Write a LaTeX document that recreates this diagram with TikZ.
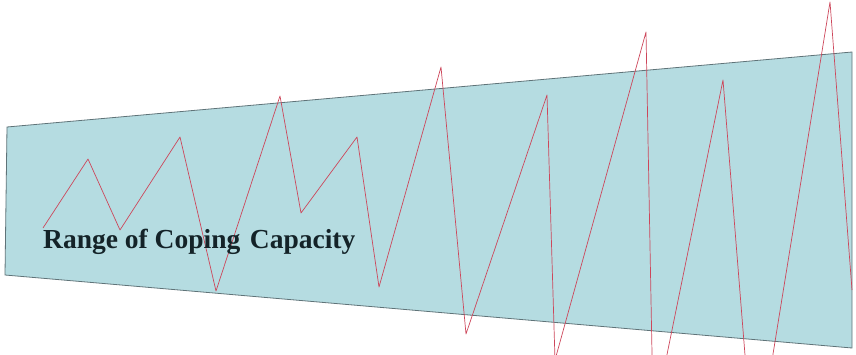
\documentclass[tikz,border=0pt]{standalone}
\usepackage{fontspec}
\setmainfont{Liberation Serif}
\definecolor{bandfill}{RGB}{181,220,225}
\definecolor{bandedge}{RGB}{95,115,120}
\definecolor{stressline}{RGB}{205,70,90}
\definecolor{labeltext}{RGB}{20,35,40}
\begin{document}
\begin{tikzpicture}[x=1pt, y=-1pt,
  band/.style={fill=bandfill, draw=bandedge, line width=0.8pt},
  stress/.style={draw=stressline, line width=0.7pt, line join=round},
  every node/.style={font=\fontsize{27.5}{30}\selectfont\bfseries, text=labeltext, inner sep=0pt}]
  \useasboundingbox (0,0) rectangle (856,354);
  \clip (0,0) rectangle (856,354);
  % coping band
  \draw[band] (7,127) -- (852,52) -- (852,348) -- (5,275) -- cycle;
  % stress zigzag
  \draw[stress] (43,228) -- (88,159) -- (120,230) -- (180,137)
    -- (216,291) -- (280,96) -- (301,213) -- (357,137) -- (379,287)
    -- (441,67) -- (466,334) -- (547,95) -- (555,360)
    -- (646,32) -- (652.5,380) -- (661.8,380) -- (723,80) -- (747,380)
    -- (768.8,380) -- (830,2) -- (852,290);
  \node[anchor=base west] (range) at (43,248) {Range of Coping\hspace{0.1em} Capacity};
\end{tikzpicture}
\end{document}
